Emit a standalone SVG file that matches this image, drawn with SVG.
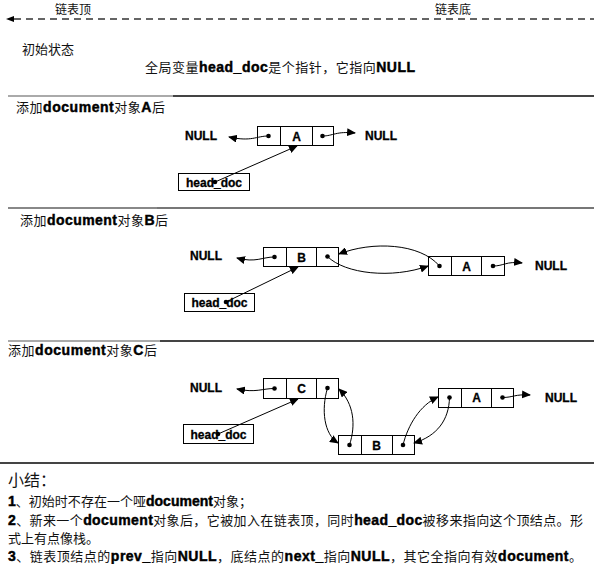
<svg xmlns="http://www.w3.org/2000/svg" width="594" height="564" viewBox="0 0 594 564">
<style>
.cn{font-family:"Noto Sans CJK SC","Liberation Serif",serif;font-size:13px;fill:#111}
.b{font-family:"Liberation Sans",Arial,sans-serif;font-weight:bold;font-size:14px;fill:#000;stroke:#000;stroke-width:0.45}
.lbl{font-family:"Liberation Sans",Arial,sans-serif;font-weight:bold;font-size:12px;fill:#000;stroke:#000;stroke-width:0.3}
.box{fill:#fff;stroke:#000;stroke-width:1}
.div{stroke:#000;stroke-width:1}
.dot{fill:#000}
.ptr{fill:none;stroke:#000;stroke-width:1;marker-end:url(#ah)}
.sep{stroke:#444;stroke-width:2}
.sepl{stroke:#aaa;stroke-width:2}
</style>
<defs>
<marker id="ah" markerWidth="9" markerHeight="8" refX="8" refY="4" orient="auto" markerUnits="userSpaceOnUse">
<path d="M0,0 L9,4 L0,8 Z" fill="#000"/>
</marker>
</defs>
<rect width="594" height="564" fill="#fff"/>

<!-- header -->
<g id="header">
<text class="cn" x="55" y="14" style="font-size:12px">链表顶</text>
<text class="cn" x="435" y="14" style="font-size:12px">链表底</text>
<line x1="14" y1="19" x2="594" y2="19" stroke="#333" stroke-width="1.3" stroke-dasharray="7,5"/>
<path d="M6,19 L14,16 L14,22 Z" fill="#000"/>
<text class="cn" x="22" y="54">初始状态</text>
<text class="cn" x="145" y="72" textLength="270" lengthAdjust="spacing">全局变量<tspan class="b">head_doc</tspan>是个指针，它指向<tspan class="b">NULL</tspan></text>
</g>

<!-- separators -->
<g id="separators">
<line class="sepl" x1="8" y1="96" x2="173" y2="96"/>
<line class="sep" x1="173" y1="96" x2="594" y2="96"/>
<line class="sepl" x1="8" y1="208" x2="157" y2="208" style="stroke:#888"/>
<line class="sep" x1="157" y1="208" x2="594" y2="208" style="stroke:#777"/>
<line class="sepl" x1="8" y1="341" x2="160" y2="341"/>
<line class="sep" x1="160" y1="341" x2="594" y2="341"/>
<line class="sep" x1="0" y1="463" x2="594" y2="463"/>
</g>

<!-- section 1 -->
<text class="cn" x="16" y="112" textLength="149" lengthAdjust="spacing">添加<tspan class="b">document</tspan>对象<tspan class="b">A</tspan>后</text>
<g id="s1-nullL"><text class="lbl" x="185" y="140">NULL</text></g>
<g id="s1-nullR"><text class="lbl" x="365" y="140">NULL</text></g>
<g id="s1-A">
<rect class="box" x="257.5" y="126.5" width="76" height="19"/>
<line class="div" x1="280.5" y1="126.5" x2="280.5" y2="145.5"/>
<line class="div" x1="312.5" y1="126.5" x2="312.5" y2="145.5"/>
<circle class="dot" cx="268.5" cy="136" r="2.3"/>
<text class="lbl" x="296.5" y="140.5" text-anchor="middle">A</text>
<circle class="dot" cx="322.5" cy="136" r="2.3"/>
</g>
<g id="s1-head">
<rect class="box" x="178.5" y="173.5" width="71" height="17"/>
<text class="lbl" x="214" y="186.5" text-anchor="middle">head_doc</text>
<circle class="dot" cx="215" cy="182" r="2.3"/>
</g>

<!-- section 2 -->
<text class="cn" x="20" y="225" textLength="148" lengthAdjust="spacing">添加<tspan class="b">document</tspan>对象<tspan class="b">B</tspan>后</text>
<g id="s2-nullL"><text class="lbl" x="190" y="260">NULL</text></g>
<g id="s2-nullR"><text class="lbl" x="535" y="270">NULL</text></g>
<g id="s2-B">
<rect class="box" x="263.5" y="247.5" width="75" height="19"/>
<line class="div" x1="286.5" y1="247.5" x2="286.5" y2="266.5"/>
<line class="div" x1="316.5" y1="247.5" x2="316.5" y2="266.5"/>
<circle class="dot" cx="274.5" cy="257" r="2.3"/>
<text class="lbl" x="301.5" y="261.5" text-anchor="middle">B</text>
<circle class="dot" cx="327.5" cy="256.5" r="2.3"/>
</g>
<g id="s2-A">
<rect class="box" x="428.5" y="256.5" width="76" height="19"/>
<line class="div" x1="451.5" y1="256.5" x2="451.5" y2="275.5"/>
<line class="div" x1="481.5" y1="256.5" x2="481.5" y2="275.5"/>
<circle class="dot" cx="439.5" cy="266" r="2.3"/>
<text class="lbl" x="466.5" y="270.5" text-anchor="middle">A</text>
<circle class="dot" cx="493" cy="266" r="2.3"/>
</g>
<g id="s2-head">
<rect class="box" x="184.5" y="293.5" width="70" height="18"/>
<text class="lbl" x="219.5" y="306.5" text-anchor="middle">head_doc</text>
<circle class="dot" cx="226" cy="302" r="2.3"/>
</g>

<!-- section 3 -->
<text class="cn" x="8" y="355" textLength="149" lengthAdjust="spacing">添加<tspan class="b">document</tspan>对象<tspan class="b">C</tspan>后</text>
<g id="s3-nullL"><text class="lbl" x="190" y="392">NULL</text></g>
<g id="s3-nullR"><text class="lbl" x="545" y="402">NULL</text></g>
<g id="s3-C">
<rect class="box" x="263.5" y="378.5" width="75" height="20"/>
<line class="div" x1="286.5" y1="378.5" x2="286.5" y2="398.5"/>
<line class="div" x1="316.5" y1="378.5" x2="316.5" y2="398.5"/>
<circle class="dot" cx="274.5" cy="388.5" r="2.3"/>
<text class="lbl" x="301.5" y="393" text-anchor="middle">C</text>
<circle class="dot" cx="327.5" cy="388" r="2.3"/>
</g>
<g id="s3-A">
<rect class="box" x="438.5" y="388.5" width="75" height="19"/>
<line class="div" x1="461.5" y1="388.5" x2="461.5" y2="407.5"/>
<line class="div" x1="491.5" y1="388.5" x2="491.5" y2="407.5"/>
<circle class="dot" cx="449.5" cy="397.5" r="2.3"/>
<text class="lbl" x="476.5" y="402" text-anchor="middle">A</text>
<circle class="dot" cx="502.5" cy="397.5" r="2.3"/>
</g>
<g id="s3-B">
<rect class="box" x="338.5" y="435.5" width="76" height="19"/>
<line class="div" x1="361.5" y1="435.5" x2="361.5" y2="454.5"/>
<line class="div" x1="392.5" y1="435.5" x2="392.5" y2="454.5"/>
<circle class="dot" cx="349.5" cy="445" r="2.3"/>
<text class="lbl" x="376.5" y="449.5" text-anchor="middle">B</text>
<circle class="dot" cx="403" cy="445" r="2.3"/>
</g>
<g id="s3-head">
<rect class="box" x="183.5" y="424.5" width="70" height="19"/>
<text class="lbl" x="218.5" y="438.5" text-anchor="middle">head_doc</text>
<circle class="dot" cx="218" cy="434" r="2.3"/>
</g>

<!-- connectors -->
<g id="connectors">
<path class="ptr" d="M268.5,136 C256,136 252,142 229,137"/>
<path class="ptr" d="M322.5,136 C333,136 336,131 355,133"/>
<path class="ptr" d="M215,182 L297,146"/>

<path class="ptr" d="M274.5,257 C262,257 256,263 237,258"/>
<path class="ptr" d="M493,266 C504,266 506,261 522,263"/>
<path class="ptr" d="M439.5,266 C420,243 372,241 339,254"/>
<path class="ptr" d="M327.5,256.5 C345,274 392,279 428,266"/>
<path class="ptr" d="M226,302 L298,267"/>

<path class="ptr" d="M274.5,388.5 C262,388.5 256,393 237,389"/>
<path class="ptr" d="M502.5,397.5 C513,397.5 515,394 530,395"/>
<path class="ptr" d="M327.5,388 C321,410 324,434 338,443"/>
<path class="ptr" d="M349.5,445 C356,425 354,404 339,389"/>
<path class="ptr" d="M403,445 C408,425 420,405 438,397"/>
<path class="ptr" d="M449.5,397.5 C449,420 437,436 414,443"/>
<path class="ptr" d="M218,434 L298,399"/>
</g>

<!-- summary -->
<g id="summary">
<text class="cn" x="8" y="486" style="font-size:16px">小结：</text>
<text class="cn" x="8" y="506" textLength="244" lengthAdjust="spacing"><tspan class="b">1</tspan>、初始时不存在一个哑<tspan class="b">document</tspan>对象；</text>
<text class="cn" x="8" y="525" textLength="575" lengthAdjust="spacing"><tspan class="b">2</tspan>、新来一个<tspan class="b">document</tspan>对象后，它被加入在链表顶，同时<tspan class="b">head_doc</tspan>被移来指向这个顶结点。形</text>
<text class="cn" x="8" y="543">式上有点像栈。</text>
<text class="cn" x="8" y="561" textLength="574" lengthAdjust="spacing"><tspan class="b">3</tspan>、链表顶结点的<tspan class="b">prev_</tspan>指向<tspan class="b">NULL</tspan>，底结点的<tspan class="b">next_</tspan>指向<tspan class="b">NULL</tspan>，其它全指向有效<tspan class="b">document</tspan>。</text>
</g>
</svg>
